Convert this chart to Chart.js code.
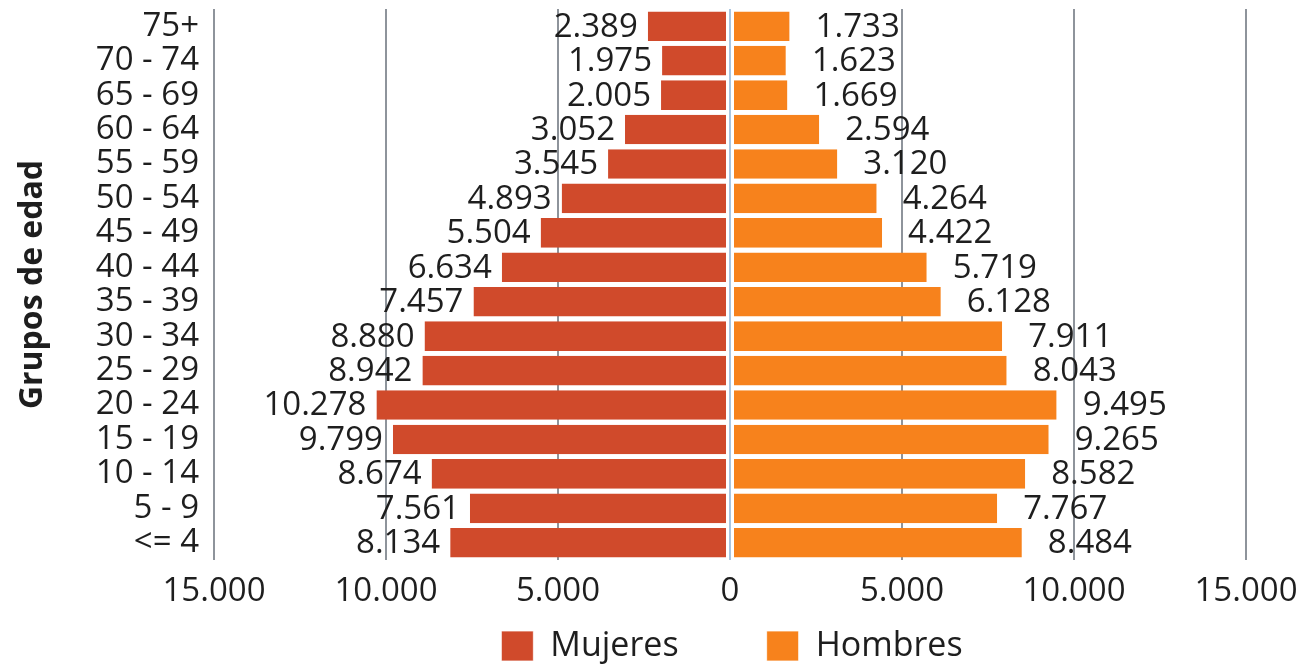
<!DOCTYPE html>
<html>
<head>
<meta charset="utf-8">
<script src="https://cdn.jsdelivr.net/npm/chart.js@4.4.1/dist/chart.umd.min.js"></script>
<style>
  html, body { margin: 0; padding: 0; background: #ffffff; }
  #wrap { width: 1299px; height: 670px; position: relative; }
</style>
</head>
<body>
<div id="wrap"><canvas id="c"></canvas></div>
<script>
const categories = ['75+', '70 - 74', '65 - 69', '60 - 64', '55 - 59', '50 - 54', '45 - 49', '40 - 44',
                    '35 - 39', '30 - 34', '25 - 29', '20 - 24', '15 - 19', '10 - 14', '5 - 9', '<= 4'];
const mujeres = [2389, 1975, 2005, 3052, 3545, 4893, 5504, 6634, 7457, 8880, 8942, 10278, 9799, 8674, 7561, 8134];
const hombres = [1733, 1623, 1669, 2594, 3120, 4264, 4422, 5719, 6128, 7911, 8043, 9495, 9265, 8582, 7767, 8484];
const xTickValues = [-15000, -10000, -5000, 0, 5000, 10000, 15000];

const FONT = '"Open Sans", "DejaVu Sans", sans-serif';
const TEXT = '#1e1e1e';
const RED = '#D04A2B';
const ORANGE = '#F7821C';

function fmt(v) {
  return String(Math.round(Math.abs(v))).replace(/\B(?=(\d{3})+(?!\d))/g, '.');
}

const valueLabels = {
  id: 'valueLabels',
  afterDatasetsDraw(chart) {
    const ctx = chart.ctx;
    ctx.save();
    ctx.font = '33px ' + FONT;
    ctx.fillStyle = TEXT;
    ctx.textBaseline = 'middle';
    chart.data.datasets.forEach((ds, di) => {
      const meta = chart.getDatasetMeta(di);
      meta.data.forEach((el, i) => {
        const v = ds.data[i];
        if (v < 0) {
          ctx.textAlign = 'right';
          ctx.fillText(fmt(v), el.x - 10, el.y + 1);
        } else {
          ctx.textAlign = 'left';
          ctx.fillText(fmt(v), el.x + 26, el.y + 1);
        }
      });
    });
    const xs = chart.scales.x;
    const x0 = xs.getPixelForValue(0);
    ctx.strokeStyle = '#8db2d4';
    ctx.lineWidth = 1.5;
    ctx.beginPath();
    ctx.moveTo(x0, chart.chartArea.top);
    ctx.lineTo(x0, chart.chartArea.bottom);
    ctx.stroke();
    ctx.restore();
  }
};

// keep the legend compact in the layout, then give it a taller, shifted box so it sits under the axis labels
const legendFix = {
  id: 'legendFix',
  beforeLayout(chart) {
    const lg = chart.legend;
    if (lg && !lg.__fixed) {
      const orig = lg.fit;
      lg.fit = function () { orig.call(this); this.height = 60; };
      lg.__fixed = true;
    }
  },
  afterLayout(chart) {
    const lg = chart.legend;
    if (lg) {
      lg.top = 541;
      lg.height = lg.bottom - lg.top;
      lg.left += 102; lg.right += 102;
    }
  }
};

new Chart(document.getElementById('c'), {
  type: 'bar',
  data: {
    labels: categories,
    datasets: [
      {
        label: 'Mujeres',
        data: mujeres.map(v => -v),
        backgroundColor: RED,
        borderColor: '#ffffff',
        borderWidth: { left: 0, right: 3, top: 0, bottom: 0 },
        borderSkipped: false,
        categoryPercentage: 0.86,
        barPercentage: 1.0
      },
      {
        label: 'Hombres',
        data: hombres,
        backgroundColor: ORANGE,
        borderColor: '#ffffff',
        borderWidth: { left: 3, right: 0, top: 0, bottom: 0 },
        borderSkipped: false,
        categoryPercentage: 0.86,
        barPercentage: 1.0
      }
    ]
  },
  options: {
    indexAxis: 'y',
    responsive: true,
    maintainAspectRatio: false,
    animation: false,
    layout: { padding: { top: 9, left: 14, right: 53, bottom: 0 } },
    plugins: {
      legend: {
        position: 'bottom',
        labels: {
          boxWidth: 32,
          boxHeight: 30,
          color: TEXT,
          font: { family: FONT, size: 34 },
          padding: 88
        }
      },
      tooltip: { enabled: false }
    },
    scales: {
      x: {
        stacked: true,
        min: -15000,
        max: 15000,
        afterBuildTicks(scale) { scale.ticks = xTickValues.map(v => ({ value: v })); },
        afterFit(scale) { scale.height = 50; scale.paddingLeft = 0; scale.paddingRight = 0; },
        ticks: {
          callback: v => fmt(v),
          color: TEXT,
          font: { family: FONT, size: 33 },
          padding: 12,
          maxRotation: 0
        },
        grid: {
          color: ctx => (ctx.tick && ctx.tick.value === 0) ? 'rgba(0,0,0,0)' : '#8e949b',
          lineWidth: 2,
          drawTicks: false
        },
        border: { display: false }
      },
      y: {
        stacked: true,
        afterFit(scale) { scale.width = 200; scale.paddingTop = 0; scale.paddingBottom = 0; },
        ticks: {
          autoSkip: false,
          color: TEXT,
          font: { family: FONT, size: 33 },
          padding: 7
        },
        grid: { display: false },
        border: { display: false },
        title: {
          display: true,
          text: 'Grupos de edad',
          color: TEXT,
          font: { family: FONT, size: 32, weight: 'bold' },
          padding: { top: 0, bottom: 0 }
        }
      }
    }
  },
  plugins: [valueLabels, legendFix]
});
</script>
</body>
</html>
